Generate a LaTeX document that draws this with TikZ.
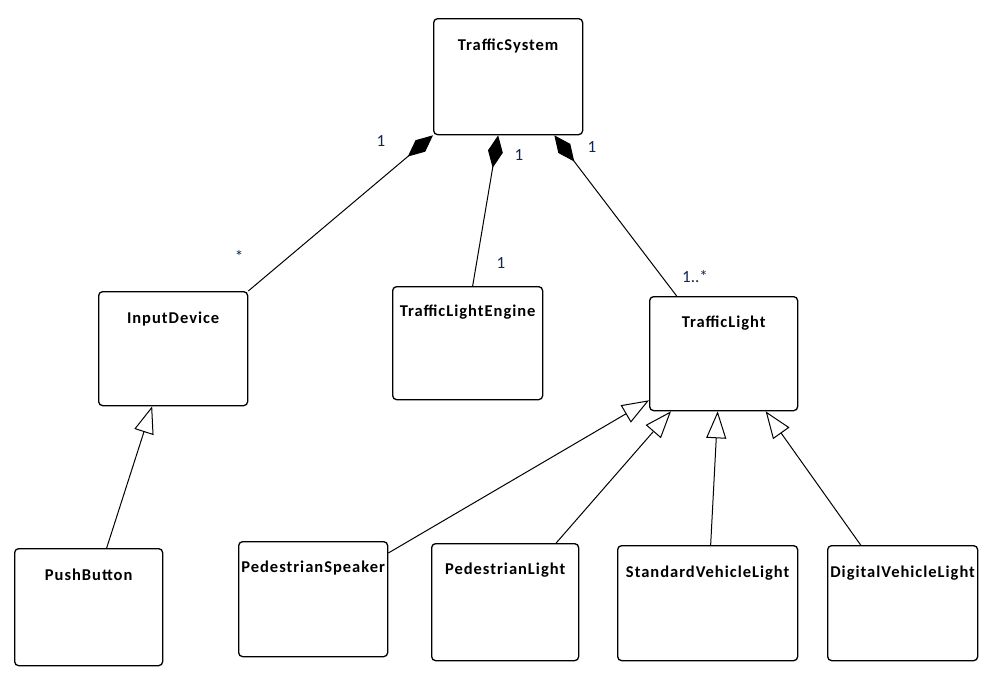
\documentclass[tikz,border=0pt]{standalone}
\usepackage{fontspec}
\setmainfont{Carlito}
\newfontfamily\classfont{Carlito}[LetterSpace=6]
\usetikzlibrary{arrows.meta}
\usetikzlibrary{calc}
\definecolor{multcol}{rgb}{0.05,0.15,0.35}
\tikzstyle{classbox} = [rectangle, rounded corners=4pt, inner sep=0pt, anchor=north west,
draw=black, line width=1.3pt, fill=white]
\tikzstyle{classname} = [anchor=north, inner sep=0pt, font=\fontsize{16.5}{19}\classfont\bfseries]
\tikzstyle{mult} = [inner sep=0pt, text=multcol, font=\fontsize{17}{19}\selectfont]
\tikzstyle{comp} = [line width=1pt, -{Diamond[length=33pt, width=15pt]}]
\tikzstyle{inherit} = [line width=1pt, -{Triangle[open, length=27pt, width=20pt, fill=white]}]

\begin{document}
\begin{tikzpicture}[x=1pt, y=-1pt]
  \useasboundingbox (0,0) rectangle (1008,691);

  \node (system) [classbox, minimum width=149pt, minimum height=116pt] at (433,18) {};
  \node (input) [classbox, minimum width=149pt, minimum height=114pt] at (98,291) {};
  \node (engine) [classbox, minimum width=150pt, minimum height=113pt] at (392,286) {};
  \node (light) [classbox, minimum width=148pt, minimum height=114pt] at (649,296) {};
  \node (button) [classbox, minimum width=148pt, minimum height=117pt] at (14,548) {};
  \node (speaker) [classbox, minimum width=149pt, minimum height=115pt] at (238,541) {};
  \node (pedlight) [classbox, minimum width=147pt, minimum height=117pt] at (431,543) {};
  \node (stdlight) [classbox, minimum width=180pt, minimum height=115pt] at (617,545) {};
  \node (diglight) [classbox, minimum width=150pt, minimum height=115pt] at (827,545) {};

  \node (systemT) [classname] at ([yshift=-21pt]system.north) {TrafficSystem};
  \node (inputT) [classname] at ([yshift=-21pt]input.north) {InputDevice};
  \node (engineT) [classname] at ([yshift=-19pt]engine.north) {TrafficLightEngine};
  \node (lightT) [classname] at ([yshift=-20pt]light.north) {TrafficLight};
  \node (buttonT) [classname] at ([yshift=-21pt]button.north) {PushButton};
  \node (speakerT) [classname] at ([yshift=-20pt]speaker.north) {PedestrianSpeaker};
  \node (pedlightT) [classname] at ([yshift=-20pt]pedlight.north) {PedestrianLight};
  \node (stdlightT) [classname] at ([yshift=-21pt]stdlight.north) {StandardVehicleLight};
  \node (diglightT) [classname] at ([yshift=-21pt]diglight.north) {DigitalVehicleLight};

  % composition
  \draw[comp] (input.north east) -- (system.south west);
  \draw[comp] ([xshift=5pt]engine.north) -- ([xshift=-10pt]system.south);
  \draw[comp] ([xshift=-47pt]light.north) -- ([xshift=-29pt]system.south east);

  \node (m1) [mult] at (381,141) {1};
  \node (m2) [mult] at (239,256) {*};
  \node (m3) [mult] at (519,155) {1};
  \node (m4) [mult] at (501,263) {1};
  \node (m5) [mult] at (592,147) {1};
  \node (m6) [mult] at (695,277) {1..*};

  % generalization
  \draw[inherit] ([xshift=18pt]button.north) -- ([xshift=-21pt]input.south);
  \draw[inherit] ([yshift=-12pt]speaker.north east) -- ([yshift=11pt]light.south west);
  \draw[inherit] ([xshift=51pt]pedlight.north) -- ([xshift=22pt]light.south west);
  \draw[inherit] ([xshift=3pt]stdlight.north) -- ([xshift=-6pt]light.south);
  \draw[inherit] ([xshift=-42pt]diglight.north) -- ([xshift=42pt]light.south);

\end{tikzpicture}
\end{document}
